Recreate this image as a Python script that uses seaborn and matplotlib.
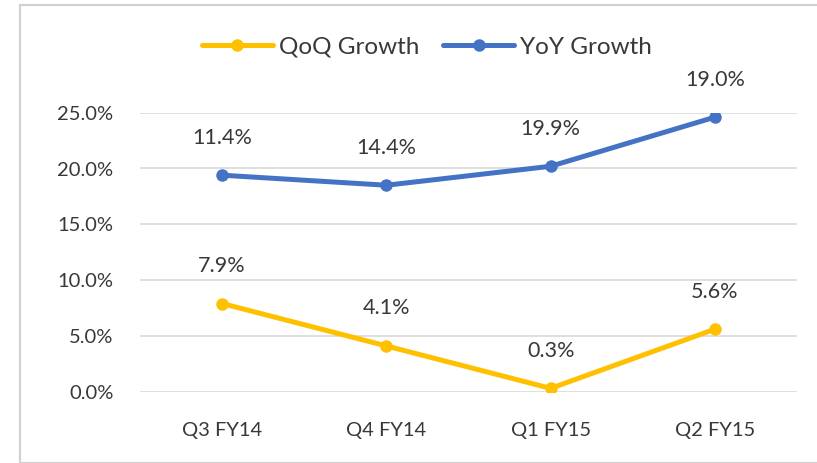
import numpy as np
import pandas as pd
import matplotlib.pyplot as plt
import seaborn as sns
from matplotlib.lines import Line2D

quarters = ['Q3 FY14', 'Q4 FY14', 'Q1 FY15', 'Q2 FY15']
qoq = [7.9, 4.1, 0.3, 5.6]
yoy = [19.4, 18.5, 20.2, 24.6]
qoq_labels = ['7.9%', '4.1%', '0.3%', '5.6%']
yoy_labels = ['11.4%', '14.4%', '19.9%', '19.0%']

df = pd.DataFrame({'quarter': quarters * 2,
                   'value': qoq + yoy,
                   'series': ['QoQ Growth'] * 4 + ['YoY Growth'] * 4})

sns.set_style('white')
plt.rcParams['font.family'] = ['Lato', 'DejaVu Sans']

yellow = '#FFC000'
blue = '#4472C4'
txt = '#383838'

fig = plt.figure(figsize=(8.17, 4.63), dpi=100)
ax = fig.add_axes([140 / 817, 1 - 391.7 / 463, 657 / 817, 279 / 463])

sns.lineplot(data=df, x='quarter', y='value', hue='series',
             palette={'QoQ Growth': yellow, 'YoY Growth': blue},
             marker='o', markersize=9, markeredgewidth=0, linewidth=3.6,
             legend=False, ax=ax, sort=False)

for vals, labels in [(qoq, qoq_labels), (yoy, yoy_labels)]:
    for i, (v, s) in enumerate(zip(vals, labels)):
        ax.annotate(s, (i, v), xytext=(0, 27), textcoords='offset points',
                    ha='center', va='center', fontsize=15.5, color=txt,
                    annotation_clip=False)

ax.set_xlim(-0.5, 3.5)
ax.set_ylim(0, 25)
ax.set_yticks(np.arange(0, 26, 5))
ax.set_yticklabels([f'{t:.1f}%' for t in np.arange(0, 26, 5)])
ax.yaxis.grid(True, color='#D9D9D9', linewidth=1.2)
ax.set_axisbelow(True)
for sp in ax.spines.values():
    sp.set_visible(False)
ax.tick_params(axis='both', length=0, labelsize=14.5, colors=txt)
ax.tick_params(axis='y', pad=19)
ax.tick_params(axis='x', pad=22)
ax.set_xlabel('')
ax.set_ylabel('')

handles = [Line2D([], [], color=yellow, lw=3.6, marker='o', markersize=9, markeredgewidth=0),
           Line2D([], [], color=blue, lw=3.6, marker='o', markersize=9, markeredgewidth=0)]
fig.legend(handles, ['QoQ Growth', 'YoY Growth'], loc='center',
           bbox_to_anchor=(427 / 817, 1 - 47 / 463), ncol=2, frameon=False,
           fontsize=17.5, handlelength=2.9, handletextpad=0.25, columnspacing=1.0,
           labelcolor=txt)

fig.patches.append(plt.Rectangle((20 / 817, 0), 1, 1 - 5 / 463, transform=fig.transFigure,
                                 fill=False, edgecolor='#D0D0D0', linewidth=1.5))

fig.savefig('out.png', dpi=100)
